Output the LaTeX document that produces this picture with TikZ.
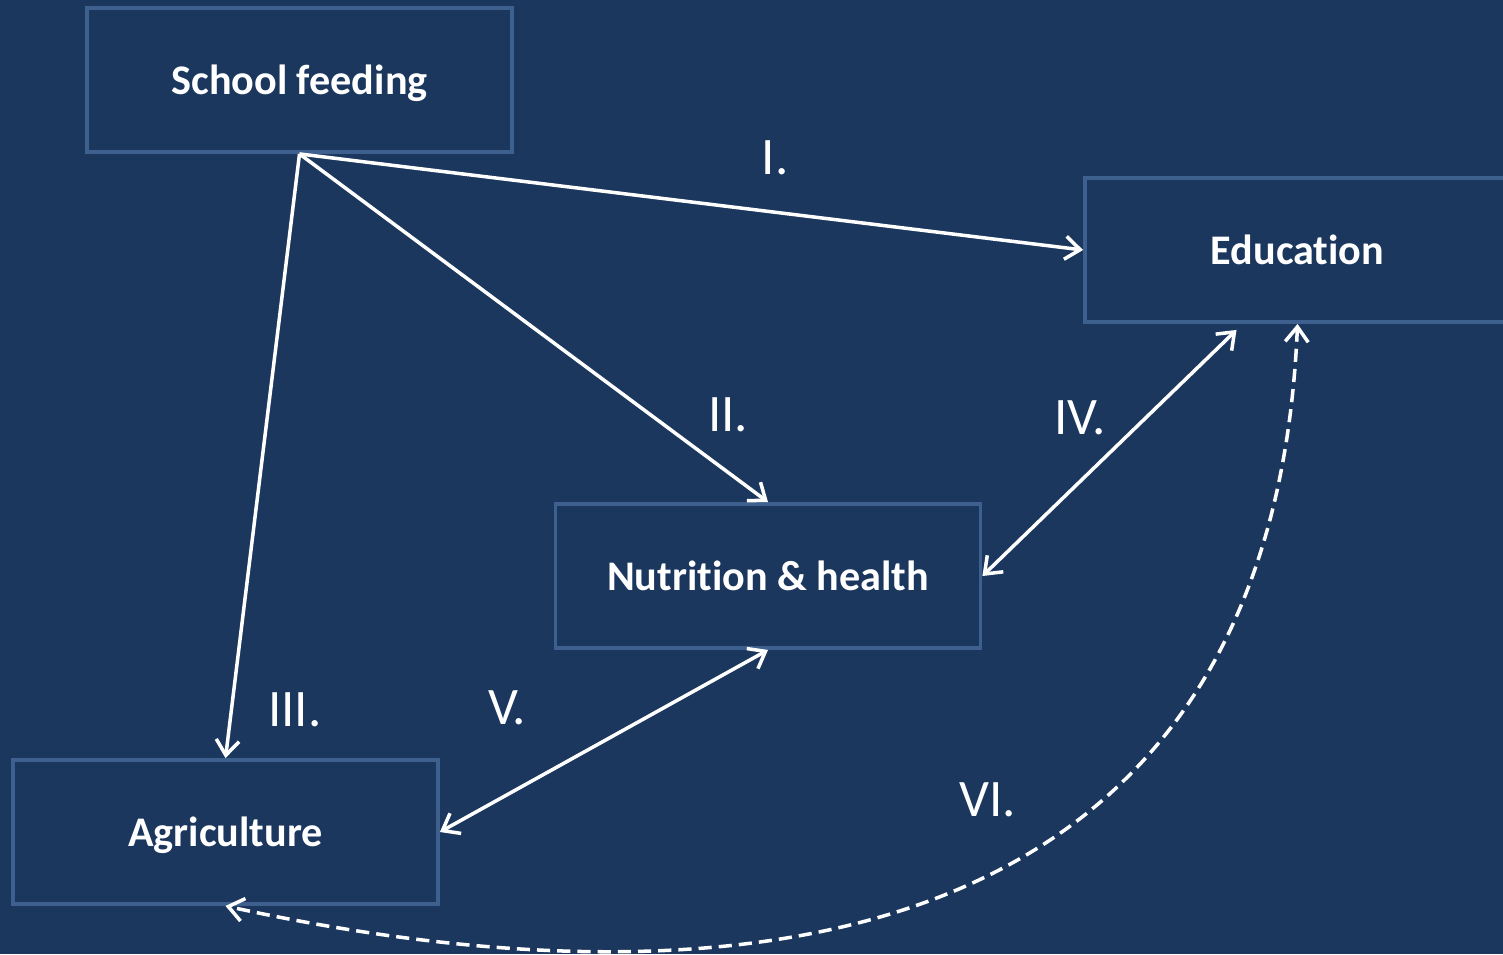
\documentclass[tikz,border=0pt]{standalone}
\usepackage{fontspec}
\setmainfont{Carlito}[Ligatures=NoCommon]
\usetikzlibrary{positioning,arrows.meta}
\definecolor{navy}{RGB}{27,55,94}
\definecolor{rim}{RGB}{62,96,142}
\tikzset{
  area/.style={rectangle, draw=rim, line width=2.2pt, fill=navy, minimum width=8.5cm, minimum height=2.88cm, inner sep=0pt, text height=20pt, text depth=4pt, text=white, font=\fontsize{24}{28}\selectfont\bfseries},
  link/.style={draw=white, line width=2pt, -{Straight Barb[length=3mm, width=4.6mm, line width=2pt]}},
  twoway/.style={link, {Straight Barb[length=3mm, width=4.6mm, line width=2pt]}-{Straight Barb[length=3mm, width=4.6mm, line width=2pt]}},
  spill/.style={twoway, dash pattern=on 7.5pt off 4pt},
  num/.style={text=white, inner sep=0pt, font=\fontsize{30}{34}\selectfont}
}

\begin{document}
\begin{tikzpicture}
  % Canvas
  \useasboundingbox (0,0) rectangle (30.06,-19.08);
  \fill[navy] (0,0) rectangle (30.06,-19.08);

  % Boxes
  \node[area] (SF) at (5.99,-1.6) {School feeding};
  \node[area] (Edu) at (25.95,-5.0) {Education};
  \node[area] (Nut) at (15.36,-11.52) {Nutrition \& health};
  \node[area] (Agr) at (4.51,-16.64) {Agriculture};
  \coordinate (EduIn) at ([xshift=-1.22cm, yshift=-0.12cm]Edu.south);

  % Direct effects of school feeding
  \foreach \dst/\anc in {Edu/west, Nut/north, Agr/north}{
    \draw[link] (SF.south) -- (\dst.\anc);
  }

  % Interactions
  \draw[twoway] (Nut.east) -- (EduIn);
  \draw[twoway] (Agr.east) -- (Nut.south);
  \draw[spill] (Edu.south) .. controls (25.4,-19.6) and (14.0,-20.2) .. (Agr.south);

  % Pathway numbers
  \node[num] (lI) at (15.5,-3.16) {I.};
  \node[num] (lII) at (14.56,-8.3) {II.};
  \node[num] (lIII) at (5.9,-14.2) {III.};
  \node[num] (lIV) at (21.6,-8.36) {IV.};
  \node[num] (lV) at (10.14,-14.16) {V.};
  \node[num] (lVI) at (19.76,-16.0) {VI.};
\end{tikzpicture}
\end{document}
